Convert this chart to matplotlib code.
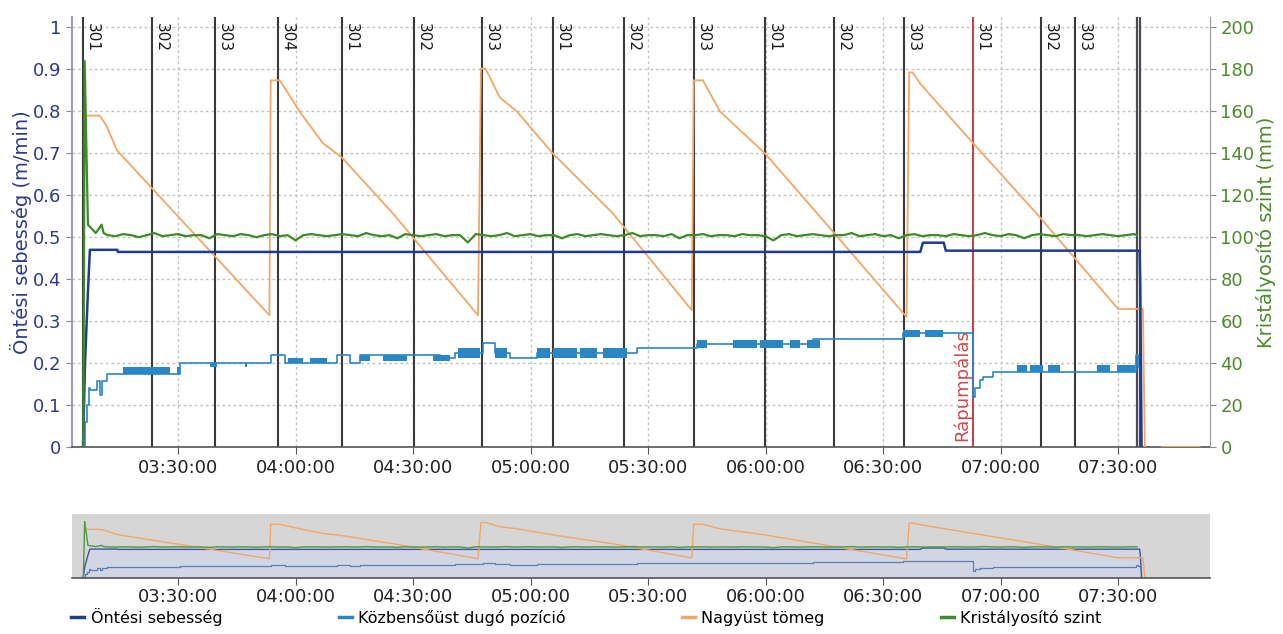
import numpy as np
import pandas as pd
import matplotlib
matplotlib.use("Agg")
import matplotlib.pyplot as plt
import matplotlib.dates as mdates
from matplotlib.lines import Line2D

plt.rcParams['font.family'] = ['DejaVu Sans']

DAY = "2020-01-01 "

def tt(lst):
    return pd.to_datetime([DAY + s for s in lst])

# --- markers (ladle changes) ---
marker_times = ["03:05:45", "03:23:22", "03:39:27", "03:55:32", "04:11:52", "04:30:15",
                "04:47:37", "05:05:44", "05:23:51", "05:41:44", "05:59:51", "06:17:28",
                "06:35:21", "06:52:58", "07:10:20", "07:19:00"]
marker_labels = ["301", "302", "303", "304", "301", "302", "303", "301", "302", "303",
                 "301", "302", "303", "301", "302", "303"]
red_marker = "06:52:58"
red_label = "Rápumpálás"
end_lines = ["07:34:50", "07:35:35"]

# --- Öntési sebesség (m/min) ---
speed_t = ["03:05:45", "03:06:15", "03:07:00", "03:07:30", "03:14:30", "03:14:40",
           "06:39:30", "06:40:10", "06:45:30", "06:46:00", "07:35:30", "07:35:40", "07:36:00"]
speed_v = [0.0, 0.20, 0.37, 0.47, 0.47, 0.465,
           0.465, 0.487, 0.487, 0.468, 0.468, 0.38, 0.0]

# --- Közbensőüst dugó pozíció (step series) ---
stop_t = ["03:05:45", "03:06:15", "03:06:45", "03:07:15", "03:07:30", "03:09:20", "03:10:00",
          "03:10:30", "03:11:50", "03:30:30", "03:53:40", "03:57:20", "04:10:35", "04:13:55",
          "04:16:30", "04:37:00", "04:40:40", "04:47:50", "04:51:00", "04:54:45", "05:01:40",
          "05:27:10", "05:42:30", "06:12:00", "06:35:05", "06:52:58", "06:53:30", "06:54:45",
          "06:55:30", "06:58:00", "07:34:40", "07:35:10", "07:35:40"]
stop_v = [0.0, 0.06, 0.10, 0.14, 0.136, 0.157, 0.125,
          0.157, 0.175, 0.20, 0.219, 0.20, 0.219, 0.20,
          0.219, 0.212, 0.224, 0.248, 0.224, 0.212, 0.224,
          0.236, 0.245, 0.258, 0.271, 0.12, 0.14, 0.16,
          0.167, 0.179, 0.219, 0.19, 0.19]
# rapid toggling blocks: start, end, low, high
block_start = ["03:15:58", "03:29:45", "03:38:10", "03:47:07", "03:58:05", "04:03:42", "04:16:28",
               "04:22:20", "04:35:06", "04:41:29", "04:50:56", "05:01:39", "05:05:44", "05:12:38",
               "05:18:30", "05:42:30", "05:51:41", "05:58:35", "06:06:15", "06:10:35", "06:35:05",
               "06:40:42", "07:04:12", "07:07:31", "07:12:07", "07:24:37", "07:29:43"]
block_end = ["03:28:00", "03:30:31", "03:39:58", "03:47:37", "04:01:55", "04:08:02", "04:19:01",
             "04:28:28", "04:39:26", "04:47:06", "04:54:00", "05:04:59", "05:11:52", "05:16:58",
             "05:24:38", "05:45:03", "05:57:49", "06:04:27", "06:08:48", "06:13:54", "06:39:26",
             "06:45:18", "07:06:45", "07:10:50", "07:15:10", "07:27:56", "07:34:20"]
block_lo = [0.175, 0.175, 0.19, 0.19, 0.20, 0.20, 0.205, 0.205, 0.205, 0.212, 0.212, 0.212,
            0.212, 0.212, 0.212, 0.236, 0.236, 0.236, 0.236, 0.236, 0.262, 0.262, 0.179,
            0.179, 0.179, 0.179, 0.179]
block_hi = [0.19, 0.19, 0.20, 0.20, 0.212, 0.212, 0.219, 0.219, 0.219, 0.236, 0.236, 0.236,
            0.236, 0.236, 0.236, 0.255, 0.255, 0.255, 0.255, 0.255, 0.28, 0.28, 0.195,
            0.195, 0.195, 0.195, 0.195]

# --- Nagyüst tömeg (read on left scale) ---
ladle_t = ["03:06:45", "03:10:00", "03:11:40", "03:14:25", "03:53:20", "03:53:40", "03:56:00",
           "04:01:10", "04:07:00", "04:11:50", "04:24:50", "04:46:35", "04:47:20", "04:48:30",
           "04:52:10", "04:56:30", "05:05:40", "05:15:50", "05:21:00", "05:41:10", "05:41:40",
           "05:44:00", "05:48:20", "05:59:50", "06:13:10", "06:36:00", "06:36:40", "06:37:30",
           "06:39:30", "06:53:00", "07:10:00", "07:30:00", "07:36:20", "07:36:50", "07:38:00",
           "07:41:10", "07:50:50"]
ladle_v = [0.79, 0.79, 0.767, 0.707, 0.314, 0.874, 0.874,
           0.798, 0.724, 0.69, 0.557, 0.314, 0.902, 0.902,
           0.833, 0.80, 0.70, 0.605, 0.557, 0.326, 0.874,
           0.874, 0.80, 0.70, 0.557, 0.31, 0.893, 0.893,
           0.866, 0.724, 0.548, 0.329, 0.329, 0.0, np.nan,
           0.0, 0.0]

# --- Kristályosító szint (mm) ---
level_start_t = ["03:05:50", "03:06:10", "03:07:00", "03:08:00", "03:09:00", "03:10:30", "03:11:00"]
level_start_v = [0, 184, 106, 104, 102, 106, 102]
level_noise = [
    101, 100.5, 101.5, 101, 100, 101, 102, 100.5, 101, 101.5,
    100.5, 101, 101, 99.5, 101.5, 101, 100.5, 101.5, 101, 100,
    101, 101.5, 100.5, 101, 98.5, 101, 101.5, 101, 100.5, 101,
    101.5, 101, 100.5, 102, 101, 100.5, 101, 99.5, 101.5, 101,
    100.5, 101, 101.5, 100.5, 101, 101, 97.5, 101.5, 101, 100.5,
    101, 102, 100.5, 101, 101.5, 100.5, 101, 101, 99.5, 101,
    101.5, 100.5, 101, 101.5, 101, 100.5, 101, 102, 100.5, 101,
    101, 100.5, 101.5, 99.5, 101, 101, 101.5, 100.5, 101, 101,
    100.5, 101.5, 101, 101, 100.5, 98.5, 101, 101.5, 100.5, 101,
    101.5, 101, 100.5, 101, 101, 102, 100.5, 101, 101.5, 100.5,
    101, 99.5, 101, 101.5, 100.5, 101, 101, 100.5, 101.5, 101,
    100.5, 101, 102, 101, 100.5, 101.5, 101, 99.5, 101, 101.5,
    101, 100.5, 101.5, 101, 101, 100.5, 101, 101.5, 101, 100.5,
    101, 101.5]
level_noise_t = pd.date_range(DAY + "03:12:00", DAY + "07:34:00", freq="2min")

c_speed = "#1f3c8f"
c_stop = "#2b86c5"
c_ladle = "#f2a766"
c_level = "#3d8b27"

fig = plt.figure(figsize=(12.83, 6.34), dpi=100)
ax = fig.add_axes([72 / 1283, 187 / 634, 1138 / 1283, 430 / 634])
axr = ax.twinx()

x0 = pd.Timestamp(DAY + "03:02:56")
x1 = pd.Timestamp(DAY + "07:53:28")

# grid
ax.set_axisbelow(True)
ax.grid(True, color="#c4c4c4", linestyle=(0, (2, 2)), linewidth=1)

# marker lines
for t in tt(marker_times):
    col = "#c04848" if t == pd.Timestamp(DAY + red_marker) else "#3a3a3a"
    ax.axvline(t, color=col, lw=1.5, zorder=2)
for t in tt(end_lines):
    ax.axvline(t, color="#4a4a58", lw=1.6, zorder=2)
for t, lab in zip(tt(marker_times), marker_labels):
    ax.annotate(lab, xy=(t, 1), xycoords=("data", "axes fraction"), xytext=(1, -4),
                textcoords="offset points", rotation=-90, ha="left", va="top",
                fontsize=11, color="#1a1a1a")
ax.annotate(red_label, xy=(pd.Timestamp(DAY + red_marker), 0), xycoords=("data", "data"),
            xytext=(-1, 4), textcoords="offset points", rotation=90, ha="right", va="bottom",
            fontsize=13, color="#d04a4a")

# series
for s, e, lo, hi in zip(tt(block_start), tt(block_end), block_lo, block_hi):
    ax.fill_between([s, e], [lo, lo], [hi, hi], color=c_stop, lw=0, zorder=3)
ax.plot(tt(stop_t), stop_v, drawstyle="steps-post", color=c_stop, lw=1.2, zorder=3)
ax.plot(tt(speed_t), speed_v, color=c_speed, lw=1.8, zorder=4)
ax.plot(tt(ladle_t), ladle_v, color=c_ladle, lw=1.3, zorder=3)

lev_t = list(tt(level_start_t)) + list(level_noise_t) + [pd.Timestamp(DAY + "07:34:50")]
lev_v = level_start_v + level_noise + [101]
axr.plot(lev_t, lev_v, color=c_level, lw=1.6)

ax.set_xlim(x0, x1)
ax.set_ylim(0, 1.025)
axr.set_ylim(0, 205)
ax.set_yticks(np.arange(0, 1.01, 0.1))
ax.set_yticklabels(["0", "0.1", "0.2", "0.3", "0.4", "0.5", "0.6", "0.7", "0.8", "0.9", "1"])
axr.set_yticks(np.arange(0, 201, 20))

ax.xaxis.set_major_locator(mdates.MinuteLocator(byminute=[0, 30]))
ax.xaxis.set_major_formatter(mdates.DateFormatter("%H:%M:%S"))

ax.tick_params(axis="y", colors="#2d3a8c", labelsize=13, length=4, color="#888888")
axr.tick_params(axis="y", colors="#4d8a2e", labelsize=13, length=4, color="#888888")
ax.tick_params(axis="x", labelsize=13, colors="#222222", length=5, color="#555555")
ax.set_ylabel("Öntési sebesség (m/min)", color="#2d3a8c", fontsize=14, labelpad=1)
axr.set_ylabel("Kristályosító szint (mm)", color="#4d8a2e", fontsize=14, labelpad=1)

for a in (ax, axr):
    a.spines["top"].set_visible(False)
ax.spines["left"].set_color("#9a9ad0")
ax.spines["left"].set_linewidth(1.5)
axr.spines["left"].set_visible(False)
axr.spines["right"].set_color("#999999")
axr.spines["bottom"].set_visible(False)
ax.spines["right"].set_visible(False)
ax.spines["bottom"].set_color("#555555")
ax.spines["bottom"].set_linewidth(1.2)

# --- navigator ---
nav = fig.add_axes([72 / 1283, 56 / 634, 1138 / 1283, 64 / 634])
nav.set_facecolor("#d6d6d6")
nav.fill_between(tt(speed_t), 0, speed_v, color="#d2d6e4", lw=0)
nav.plot(tt(stop_t), stop_v, drawstyle="steps-post", color="#5a7fb0", lw=0.9)
nav.plot(tt(speed_t), speed_v, color="#3a55a0", lw=1)
nav.plot(tt(ladle_t), ladle_v, color=c_ladle, lw=1)
nav.plot(lev_t, np.array(lev_v) / 200.0, color="#4a9a3a", lw=1)
nav.set_xlim(x0, x1)
nav.set_ylim(0, 1.04)
nav.set_yticks([])
for sp in ("top", "left", "right"):
    nav.spines[sp].set_visible(False)
nav.spines["bottom"].set_color("#555555")
nav.spines["bottom"].set_linewidth(1.2)
nav.xaxis.set_major_locator(mdates.MinuteLocator(byminute=[0, 30]))
nav.xaxis.set_major_formatter(mdates.DateFormatter("%H:%M:%S"))
nav.tick_params(axis="x", labelsize=13, colors="#222222", length=5, color="#555555", pad=2)

handles = [Line2D([], [], color=c, lw=2.5) for c in (c_speed, c_stop, c_ladle, c_level)]
fig.legend(handles, ["Öntési sebesség", "Közbensőüst dugó pozíció", "Nagyüst tömeg",
                     "Kristályosító szint"],
           loc="lower left", bbox_to_anchor=(57 / 1283, -0.01), ncol=4, frameon=False,
           fontsize=11.5, handlelength=0.8, handletextpad=0.4, columnspacing=7.3)

fig.savefig("out.png", dpi=100)
